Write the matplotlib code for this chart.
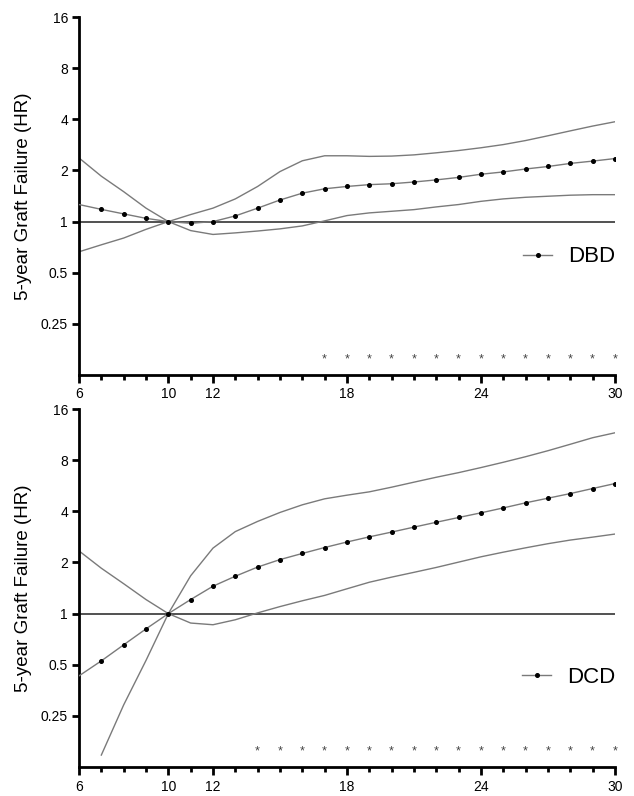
import matplotlib
matplotlib.use("Agg")
import matplotlib.pyplot as plt
from matplotlib.ticker import FixedLocator, NullLocator, FixedFormatter

plt.rcParams["font.family"] = ["Liberation Sans", "DejaVu Sans"]

# donor age (years) on the x axis, hazard ratios on a log2 y axis
ages = list(range(6, 31))

# DBD panel
dbd_hr = [1.26, 1.18, 1.11, 1.045, 1.0, 0.977, 1.0, 1.08, 1.20, 1.34, 1.47, 1.56, 1.61,
          1.65, 1.67, 1.71, 1.76, 1.82, 1.90, 1.96, 2.04, 2.11, 2.20, 2.27, 2.35]
dbd_ci_a = [2.37, 1.85, 1.50, 1.20, 1.0, 0.885, 0.84, 0.858, 0.88, 0.906, 0.943, 1.01, 1.085,
            1.125, 1.15, 1.176, 1.22, 1.26, 1.316, 1.36, 1.39, 1.41, 1.43, 1.44, 1.44]
dbd_ci_b = [0.664, 0.73, 0.80, 0.90, 1.0, 1.10, 1.20, 1.36, 1.61, 1.97, 2.28, 2.44, 2.44,
            2.42, 2.43, 2.47, 2.54, 2.62, 2.72, 2.84, 3.0, 3.2, 3.42, 3.65, 3.87]
dbd_sig_ages = list(range(17, 31))

# DCD panel
dcd_hr = [0.43, 0.527, 0.655, 0.813, 1.0, 1.21, 1.45, 1.66, 1.88, 2.08, 2.26, 2.45, 2.64,
          2.83, 3.02, 3.23, 3.45, 3.68, 3.92, 4.19, 4.49, 4.78, 5.09, 5.45, 5.83]
dcd_ci_a = [2.34, 1.85, 1.50, 1.21, 1.0, 0.88, 0.86, 0.92, 1.01, 1.10, 1.19, 1.28, 1.40,
            1.53, 1.64, 1.75, 1.87, 2.01, 2.16, 2.30, 2.44, 2.58, 2.71, 2.82, 2.94]
dcd_ci_b_ages = list(range(7, 31))
dcd_ci_b = [0.147, 0.29, 0.53, 1.0, 1.67, 2.43, 3.04, 3.49, 3.94, 4.37, 4.74, 4.98,
            5.21, 5.55, 5.94, 6.35, 6.76, 7.24, 7.78, 8.39, 9.10, 9.93, 10.85, 11.6]
dcd_sig_ages = list(range(14, 31))

y_ticks = [0.25, 0.5, 1, 2, 4, 8, 16]
y_tick_labels = ["0.25", "0.5", "1", "2", "4", "8", "16"]
x_major = [6, 10, 12, 18, 24, 30]
x_major_labels = ["6", "10", "12", "18", "24", "30"]

GREY = "#7a7a7a"
STAR_Y = 0.155

fig = plt.figure(figsize=(6.34, 7.96), dpi=100)
ax_top = fig.add_axes([0.1246, 0.5289, 0.8454, 0.4497])
ax_bot = fig.add_axes([0.1246, 0.0364, 0.8454, 0.4497])


def draw_panel(ax, hr, ci_a, ci_b_x, ci_b, sig_ages, label, legend_y):
    ax.set_yscale("log", base=2)
    ax.set_xlim(6, 30)
    ax.set_ylim(0.125, 16)

    ax.axhline(1, color="#222222", linewidth=1.1, zorder=1)
    ax.plot(ages, ci_a, color=GREY, linewidth=1.0, zorder=2)
    ax.plot(ci_b_x, ci_b, color=GREY, linewidth=1.0, zorder=2)
    # no marker at the first age, the reference leaves it bare
    ax.plot(ages, hr, color=GREY, linewidth=1.0, zorder=3)
    ax.plot(ages[1:], hr[1:], linestyle="none", marker="o", markersize=2.6,
            color="black", zorder=4)
    # proxy handle for the legend: grey line with one black dot
    ax.plot([], [], color=GREY, linewidth=1.0, marker="o", markersize=2.6,
            markerfacecolor="black", markeredgecolor="black", label=label)

    for a in sig_ages:
        ax.text(a, STAR_Y, "*", ha="center", va="center", fontsize=9, color="#444444")

    ax.yaxis.set_major_locator(FixedLocator(y_ticks))
    ax.yaxis.set_major_formatter(FixedFormatter(y_tick_labels))
    ax.yaxis.set_minor_locator(NullLocator())
    ax.xaxis.set_major_locator(FixedLocator(x_major))
    ax.xaxis.set_major_formatter(FixedFormatter(x_major_labels))
    ax.xaxis.set_minor_locator(FixedLocator(ages))

    ax.tick_params(axis="both", which="major", direction="out", width=2, length=6,
                   labelsize=10, color="black", pad=3)
    ax.tick_params(axis="x", which="minor", direction="out", width=2, length=3.5)
    ax.tick_params(axis="y", length=5)

    for side in ("top", "right"):
        ax.spines[side].set_visible(False)
    for side in ("left", "bottom"):
        ax.spines[side].set_linewidth(2)
    ax.set_ylabel("5-year Graft Failure (HR)", fontsize=13.5, labelpad=6)

    ax.legend(loc="center right", bbox_to_anchor=(1.0, legend_y), frameon=False,
              fontsize=16, numpoints=1, handlelength=1.3, handletextpad=0.7,
              borderaxespad=0, borderpad=0)


draw_panel(ax_top, dbd_hr, dbd_ci_a, ages, dbd_ci_b, dbd_sig_ages, "DBD", 0.33)
draw_panel(ax_bot, dcd_hr, dcd_ci_a, dcd_ci_b_ages, dcd_ci_b, dcd_sig_ages, "DCD", 0.251)

fig.savefig("out.png", dpi=100)
